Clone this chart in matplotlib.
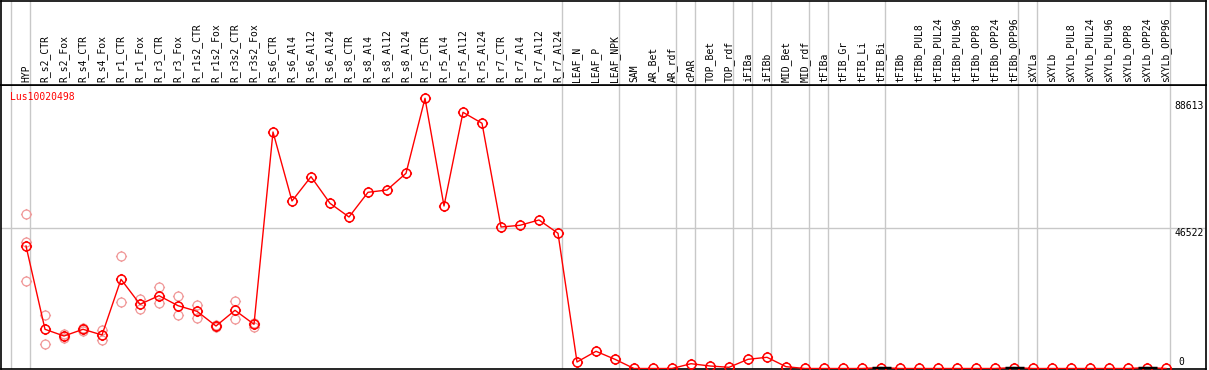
import numpy as np
import matplotlib.pyplot as plt
from matplotlib.path import Path

# Muestras (orden del eje x)
samples = ['HYP', 'R_s2_CTR', 'R_s2_Fox', 'R_s4_CTR', 'R_s4_Fox', 'R_r1_CTR', 'R_r1_Fox',
           'R_r3_CTR', 'R_r3_Fox', 'R_r1s2_CTR', 'R_r1s2_Fox', 'R_r3s2_CTR', 'R_r3s2_Fox',
           'R_s6_CTR', 'R_s6_Al4', 'R_s6_Al12', 'R_s6_Al24', 'R_s8_CTR', 'R_s8_Al4',
           'R_s8_Al12', 'R_s8_Al24', 'R_r5_CTR', 'R_r5_Al4', 'R_r5_Al12', 'R_r5_Al24',
           'R_r7_CTR', 'R_r7_Al4', 'R_r7_Al12', 'R_r7_Al24', 'LEAF_N', 'LEAF_P', 'LEAF_NPK',
           'SAM', 'AR_Bet', 'AR_rdf', 'cPAR', 'TOP_Bet', 'TOP_rdf', 'iFIBa', 'iFIBb',
           'MID_Bet', 'MID_rdf', 'tFIBa', 'tFIB_Gr', 'tFIB_Li', 'tFIB_Bi', 'tFIBb',
           'tFIBb_PUL8', 'tFIBb_PUL24', 'tFIBb_PUL96', 'tFIBb_OPP8', 'tFIBb_OPP24',
           'tFIBb_OPP96', 'sXYLa', 'sXYLb', 'sXYLb_PUL8', 'sXYLb_PUL24', 'sXYLb_PUL96',
           'sXYLb_OPP8', 'sXYLb_OPP24', 'sXYLb_OPP96']

# Valor medio de expresion
mean_expr = [40650, 13010, 10780, 13010, 11120, 29600, 21300, 24160, 20840, 18980, 14100,
             19310, 14670, 78480, 55580, 63650, 54820, 50270, 58470, 59230, 64770, 89660,
             53920, 85010, 81370, 46950, 47520, 49280, 44860, 2160, 5710, 3050,
             0, 0, 0, 1590, 830, 400, 3050, 3720, 600, 0, 0, 0, 0, 300, 0,
             0, 0, 0, 0, 0, 300, 0, 0, 0, 0, 0, 0, 300, 0]

# Replicas visibles (indice de muestra, valor)
rep_idx = [0, 0, 0, 1, 1, 2, 2, 3, 3, 4, 4, 5, 5, 6, 6, 7, 7, 8, 8, 9, 9, 10, 10, 11, 11, 12, 12]
rep_val = [51170, 42080, 28940, 17650, 8030, 10020, 11450, 13440, 12440, 12880, 9460,
           37230, 21970, 22960, 19740, 26940, 21630, 23960, 17650, 21070, 16660,
           14430, 13770, 22300, 16330, 13870, 15100]

# Separadores de grupos (despues de la muestra i)
group_ends = [-1, 0, 28, 31, 34, 35, 37, 38, 39, 41, 42, 45, 52, 53, 60]
# Muestras con barra negra en la base
bar_samples = ['tFIB_Bi', 'tFIBb_OPP96', 'sXYLb_OPP24']

y_ticks = [0, 46522, 88613]
gene = 'Lus10020498'

# Marcador: circulo con pequenas marcas
circ = Path.unit_circle()
ticks = [Path([[0, 1], [0, 1.25]]), Path([[0, -1], [0, -1.25]]),
         Path([[1, 0], [1.25, 0]]), Path([[-1, 0], [-1.25, 0]])]
marker = Path.make_compound_path(circ, *ticks)

W, H = 1209, 370
fig = plt.figure(figsize=(W / 100, H / 100), dpi=100)
left = 1 / W
width = 1205 / W
ax = fig.add_axes([left, 1 / H, width, 284 / H])
axh = fig.add_axes([left, 285 / H, width, 84 / H], sharex=ax)

x = np.arange(len(samples))
red = '#ff0000'
pink = '#f09898'

ax.plot(rep_idx, rep_val, ls='none', marker=marker, ms=8, mfc='none', mec=pink, mew=0.9, zorder=3)
ax.plot(x, mean_expr, color=red, lw=1.0, marker=marker, ms=8, mfc='none', mec=red, mew=1.1, zorder=4)

for name in bar_samples:
    i = samples.index(name)
    ax.hlines(0, i - 0.5, i + 0.5, color='black', lw=2.5, zorder=5)

for g in group_ends:
    ax.axvline(g + 0.23, color='#c8c8c8', lw=1, zorder=1)
    axh.axvline(g + 0.23, color='#c8c8c8', lw=1, zorder=1)
ax.axhline(y_ticks[1], color='#c8c8c8', lw=1, zorder=1)

ax.set_xlim((1 - 26) / 19, (1206 - 26) / 19)
ax.set_ylim(-166, 94070)
ax.set_xticks([])
ax.set_yticks([])
axh.set_yticks([])
axh.tick_params(bottom=False, labelbottom=False)
for a in (ax, axh):
    for s in a.spines.values():
        s.set_color('black')
        s.set_linewidth(1.2)

mono = 'DejaVu Sans Mono'
for i, name in enumerate(samples):
    axh.text(i, 0.03, name, rotation=90, ha='center', va='bottom',
             fontsize=7, family=mono, transform=axh.get_xaxis_transform())

trans = ax.get_yaxis_transform()
ax.text(0.998, y_ticks[2], str(y_ticks[2]), ha='right', va='top', fontsize=7, family=mono, transform=trans)
ax.text(0.998, y_ticks[1], str(y_ticks[1]), ha='right', va='top', fontsize=7, family=mono, transform=trans)
ax.text(0.9798, 500, str(y_ticks[0]), ha='center', va='bottom', fontsize=7, family=mono, transform=trans)

ax.text(0.0075, 0.958, gene, color=red, ha='left', va='center', fontsize=7, family=mono,
        transform=ax.transAxes)

fig.savefig('out.png', dpi=100)
